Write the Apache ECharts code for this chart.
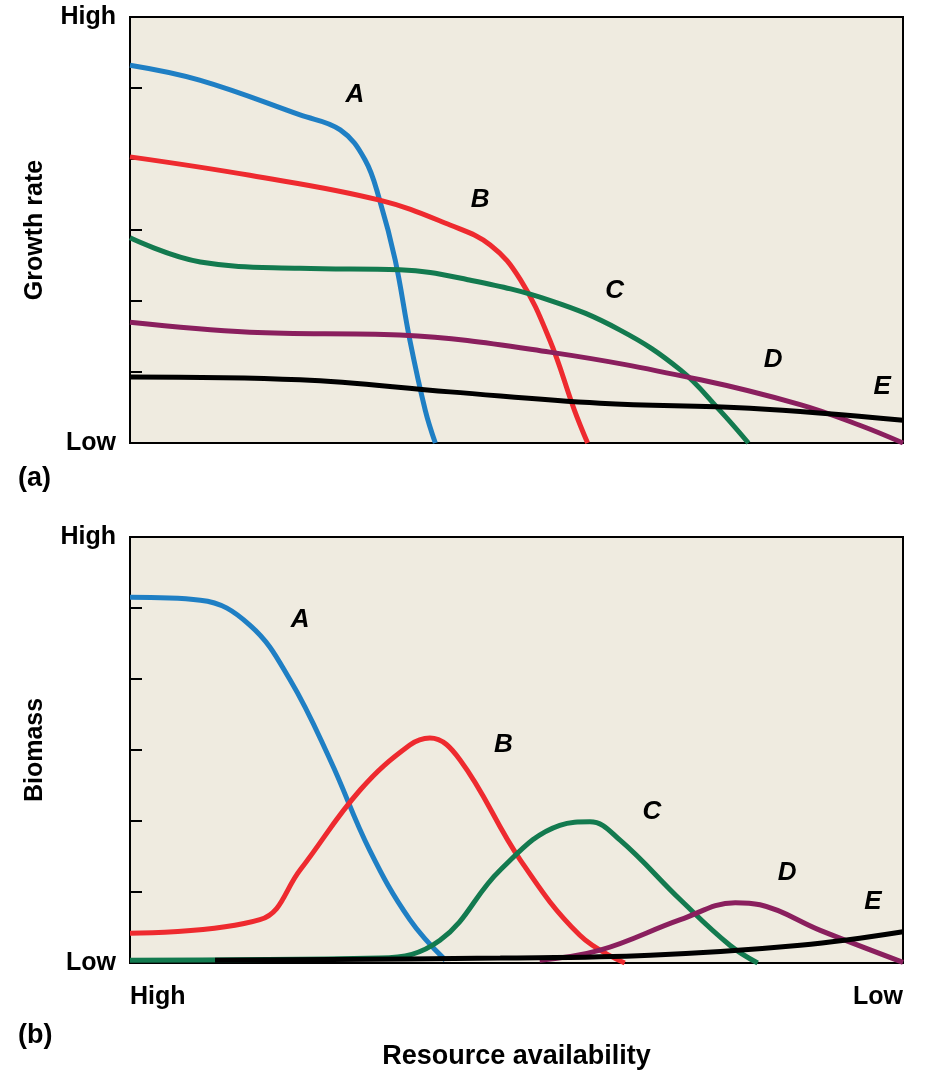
<!DOCTYPE html><html><head><meta charset="utf-8">
<script src="https://cdn.jsdelivr.net/npm/echarts@6/dist/echarts.min.js"></script>
<style>html,body{margin:0;background:#fff}#c{width:927px;height:1078px}</style></head><body><div id="c"></div>
<script>
const topA=[[0,5.32],[9,5.11],[22,4.62],[27.2,4.41],[30.4,3.99],[32.3,3.42],[34.3,2.58],[36.2,1.45],[38.2,0.46],[39.5,0]];
const topB=[[0,4.03],[15.5,3.77],[32.3,3.42],[41.4,3.07],[46.6,2.79],[50.5,2.3],[54.3,1.45],[57.5,0.46],[59.2,0]];
const topC=[[0,2.89],[9.1,2.55],[22,2.46],[34.9,2.44],[43.7,2.3],[54.3,2.01],[63.4,1.59],[71.2,1.03],[76.3,0.46],[80,0]];
const topD=[[0,1.7],[15.5,1.56],[34.9,1.52],[54.3,1.28],[73.8,0.89],[86.7,0.54],[94.4,0.25],[100,0]];
const topE=[[0,0.93],[22,0.89],[41.4,0.72],[60.8,0.56],[80.2,0.49],[100,0.32]];
const botA=[[0,5.15],[9.1,5.11],[15.5,4.76],[20.7,3.99],[25.9,2.86],[31,1.59],[36.2,0.61],[40.8,0.04]];
const botB=[[0,0.42],[16.8,0.61],[22,1.31],[29.8,2.44],[36.2,3.07],[38.8,3.17],[42.7,2.86],[50.5,1.45],[58.2,0.39],[64,0]];
const botC=[[0,0.04],[32.3,0.07],[40.1,0.32],[47.9,1.31],[55.6,1.94],[59.5,1.99],[63.4,1.73],[71.2,0.89],[77.6,0.25],[81.2,0]];
const botD=[[53,0.04],[60.8,0.18],[71.2,0.61],[78.3,0.85],[81.5,0.82],[89.3,0.46],[100,0.01]];
const botE=[[11,0.04],[47.9,0.07],[67.3,0.11],[86.7,0.25],[100,0.44]];
const names=['A','B','C','D','E'];
const colors=['#1f7fc4','#ee2a2f','#137a4f','#8a1f5e','#000000'];
const topLabelPos=[[29.1,4.9],[45.3,3.42],[62.7,2.15],[83.2,1.17],[97.3,0.79]];
const botLabelPos=[[22,4.83],[48.3,3.07],[67.5,2.13],[85,1.27],[96.1,0.86]];
const topData=[topA,topB,topC,topD,topE], botData=[botA,botB,botC,botD,botE];
const F='Liberation Sans';
function mk(data,gi,lp){return data.map((d,i)=>({type:'line',xAxisIndex:gi,yAxisIndex:gi,data:d,smooth:0.4,symbol:'none',
 lineStyle:{color:colors[i],width:5},z:i==4?3:2,
 markPoint:{symbol:'circle',symbolSize:1,itemStyle:{color:'transparent'},data:[{coord:lp[i],label:{show:true,formatter:names[i],color:'#000',fontFamily:F,fontWeight:'bold',fontStyle:'italic',fontSize:26}}]}}));}
const yax=(gi,name)=>({gridIndex:gi,type:'value',min:0,max:6,interval:1,name:name,nameLocation:'middle',nameGap:82,
 nameTextStyle:{fontFamily:F,fontWeight:'bold',fontSize:25,color:'#000'},
 axisLine:{lineStyle:{color:'#000',width:2}},axisTick:{inside:true,length:12,lineStyle:{color:'#000',width:2}},splitLine:{show:false},
 axisLabel:{fontFamily:F,fontWeight:'bold',fontSize:25,color:'#000',margin:14,formatter:v=>v==6?'High':v==0?'Low':''}});
const xax=(gi,lab)=>({gridIndex:gi,type:'value',min:0,max:100,axisLine:{lineStyle:{color:'#000',width:2}},axisTick:{show:false},splitLine:{show:false},
 name:lab?'Resource availability':'',nameLocation:'middle',nameGap:80,nameTextStyle:{fontFamily:F,fontWeight:'bold',fontSize:27,color:'#000'},
 axisLabel:{show:lab,fontFamily:F,fontWeight:'bold',fontSize:25,color:'#000',margin:22,showMinLabel:true,showMaxLabel:true,alignMinLabel:'left',alignMaxLabel:'right',formatter:v=>v==0?'High':v==100?'Low':''}});
const ch=echarts.init(document.getElementById('c'));
ch.setOption({animation:false,
 grid:[{left:130,top:17,width:773,height:426,show:true,backgroundColor:'#efebe0',borderColor:'#000',borderWidth:2},
       {left:130,top:537,width:773,height:426,show:true,backgroundColor:'#efebe0',borderColor:'#000',borderWidth:2}],
 xAxis:[xax(0,false),xax(1,true)],yAxis:[yax(0,'Growth rate'),yax(1,'Biomass')],
 graphic:[{type:'text',left:18,top:465,style:{text:'(a)',font:'bold 27px "Liberation Sans"',fill:'#000'}},
          {type:'text',left:18,top:1022,style:{text:'(b)',font:'bold 27px "Liberation Sans"',fill:'#000'}}],
 series:[...mk(topData,0,topLabelPos),...mk(botData,1,botLabelPos)]});
</script></body></html>
